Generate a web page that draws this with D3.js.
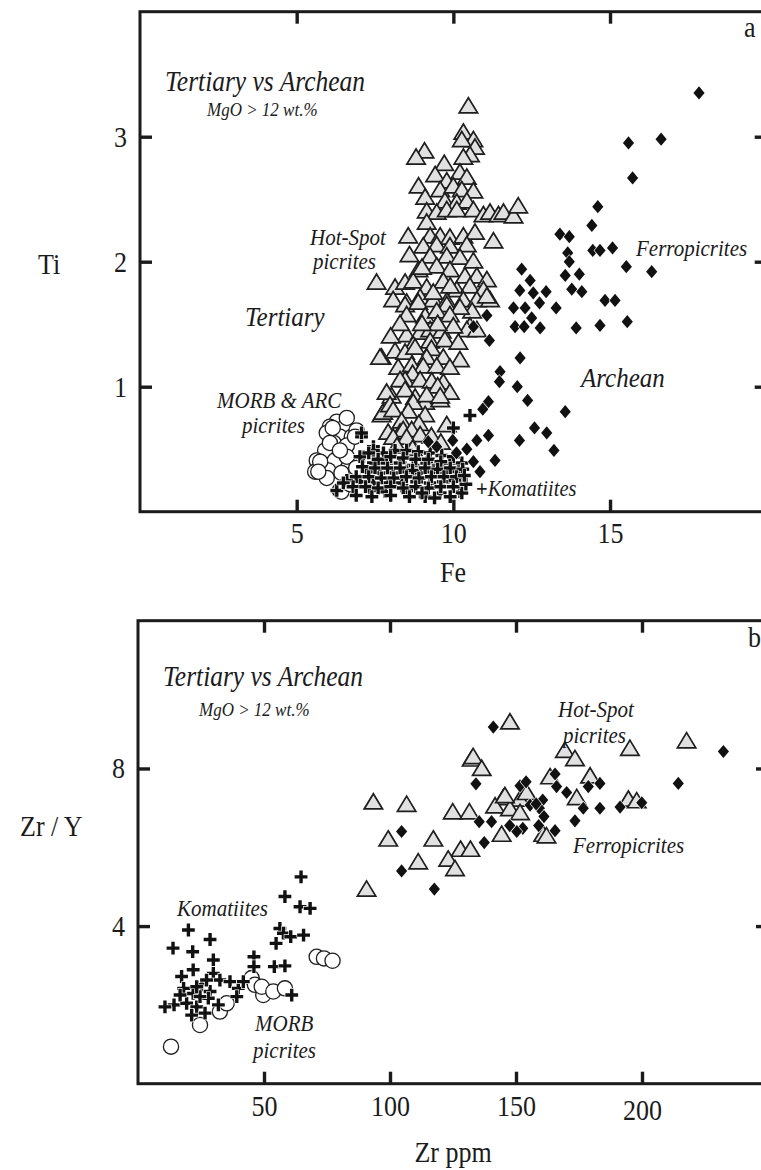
<!DOCTYPE html>
<html>
<head>
<meta charset="utf-8">
<script src="https://cdn.jsdelivr.net/npm/d3@7"></script>
<style>
  html, body { margin: 0; padding: 0; background: #fff; }
  svg { display: block; }
  text { font-family: "Liberation Serif", "Times New Roman", serif; fill: #1b1b1b; }
</style>
</head>
<body>
<svg id="chart" width="761" height="1170" font-family="Liberation Serif, serif"></svg>
<script>
// ---------- Panel a: Ti vs Fe ----------
const hotspotA = [
  [10.48,3.24],[10.32,3.03],[10.64,2.97],[10.27,2.97],[10.69,2.91],[10.53,2.85],[10.32,2.83],[9.08,2.88],
  [8.81,2.83],[9.71,2.78],[9.42,2.69],[10.21,2.71],[10.43,2.67],[8.89,2.60],[9.79,2.64],[9.58,2.57],
  [10.0,2.60],[10.27,2.57],[10.64,2.56],[9.10,2.51],[9.73,2.48],[10.11,2.47],[10.43,2.48],[9.15,2.40],
  [9.47,2.39],[9.79,2.41],[10.11,2.41],[10.64,2.41],[10.96,2.37],[11.17,2.39],[11.44,2.37],[11.6,2.39],
  [11.92,2.36],[12.07,2.44],[9.15,2.31],[8.56,2.20],[9.26,2.20],[9.58,2.20],[9.89,2.19],[10.32,2.20],
  [10.69,2.23],[11.28,2.16],[9.04,2.12],[9.47,2.13],[9.89,2.12],[10.43,2.13],[9.26,2.04],[9.79,2.04],
  [10.21,2.03],[10.64,2.0],[8.89,1.93],[9.47,1.96],[9.89,1.93],[10.37,1.88],[10.75,1.88],[11.07,1.85],
  [7.55,1.83],[8.14,1.79],[8.46,1.83],[8.72,1.84],[9.15,1.79],[9.68,1.84],[10.11,1.77],[10.53,1.80],
  [10.96,1.77],[8.08,1.69],[8.51,1.67],[8.94,1.71],[9.36,1.69],[9.79,1.68],[10.32,1.69],[10.75,1.69],
  [11.17,1.69],[9.0,1.95],[8.6,2.05],[9.9,1.80],[10.6,1.60],
  [8.46,1.65],[8.88,1.67],[9.36,1.75],[9.79,1.65],[10.21,1.63],[11.07,1.72],[8.51,1.57],[9.10,1.56],
  [9.47,1.60],[9.89,1.57],[10.53,1.48],[10.43,1.45],[10.75,1.45],[8.51,1.41],[8.94,1.43],[9.26,1.45],
  [9.63,1.44],[10.0,1.48],[9.5,1.50],[9.0,1.50],[8.3,1.50],[8.0,1.40],[8.72,1.33],[9.26,1.36],
  [9.73,1.37],[10.16,1.35],[9.3,1.30],[7.71,1.23],[7.66,1.23],[8.14,1.28],[8.46,1.27],[8.78,1.31],
  [9.15,1.23],[9.68,1.23],[10.21,1.21],[8.24,1.15],[8.67,1.17],[9.04,1.16],[9.47,1.16],[9.89,1.15],
  [8.7,1.10],[8.46,1.05],[8.94,1.05],[9.31,1.04],[9.68,1.03],[8.3,1.05],[9.5,1.00],[8.03,0.92],
  [8.46,0.97],[8.78,0.91],[9.10,0.87],[9.58,0.89],[9.89,0.95],[7.87,0.95],[8.72,0.87],[9.15,0.93],
  [9.58,0.92],[7.71,0.77],[7.76,0.79],[7.98,0.85],[8.08,0.81],[8.56,0.80],[9.10,0.77],[8.35,0.72],
  [8.9,0.70],[7.92,0.63],[8.30,0.63],[8.40,0.65],[8.67,0.65],[8.94,0.61],[9.79,0.69],[9.3,0.60],
  [8.08,0.59],[8.51,0.59],[9.6,0.55],[8.2,0.52],[8.7,0.50]
];
const morbA = [
  [6.28,0.72],[6.06,0.68],[6.54,0.68],[5.96,0.63],[6.38,0.60],[6.76,0.60],[6.91,0.65],[6.18,0.55],
  [6.60,0.53],[5.91,0.49],[5.64,0.41],[6.22,0.41],[6.60,0.44],[5.59,0.32],[6.01,0.33],[6.43,0.31],
  [6.38,0.17],[5.96,0.27],[6.60,0.75],[6.15,0.67],[6.06,0.55],[5.75,0.40],[5.69,0.32],[6.38,0.49],
  [6.43,0.16],[6.86,0.60],[6.70,0.22],[6.90,0.35]
];
const komatiiteA = [
  [7.07,0.60],[7.45,0.52],[7.77,0.47],[8.14,0.49],[8.51,0.49],[8.88,0.48],[9.26,0.47],[9.63,0.45],
  [7.13,0.44],[7.45,0.39],[7.87,0.39],[8.30,0.39],[8.72,0.37],[9.15,0.39],[9.52,0.37],[9.89,0.39],
  [10.27,0.39],[7.23,0.32],[7.66,0.31],[8.08,0.31],[8.51,0.32],[8.94,0.31],[9.36,0.32],[9.79,0.31],
  [10.16,0.32],[6.60,0.25],[7.02,0.24],[7.45,0.23],[7.92,0.23],[8.35,0.23],[8.83,0.24],[9.26,0.23],
  [9.68,0.24],[10.05,0.25],[7.34,0.17],[7.82,0.16],[8.51,0.17],[9.10,0.12],[9.58,0.15],[10.21,0.16],
  [6.28,0.17],[10.53,0.77],[10.0,0.67],[7.07,0.63],[10.27,0.15],[6.49,0.23],[7.02,0.44],[7.45,0.49],
  [7.3,0.47],[7.6,0.42],[8.0,0.44],[8.4,0.43],[8.8,0.42],[9.2,0.42],[9.6,0.40],[10.0,0.44],
  [7.1,0.36],[7.5,0.35],[7.9,0.35],[8.3,0.35],[8.7,0.33],[9.1,0.35],[9.5,0.34],[9.9,0.35],
  [10.3,0.34],[6.9,0.28],[7.3,0.28],[7.7,0.27],[8.1,0.27],[8.5,0.28],[8.9,0.27],[9.3,0.28],
  [9.7,0.28],[10.1,0.28],[6.8,0.20],[7.2,0.20],[7.6,0.19],[8.0,0.20],[8.4,0.19],[8.8,0.20],
  [9.2,0.19],[9.6,0.20],[10.0,0.20],[6.9,0.13],[7.4,0.12],[8.0,0.13],[8.6,0.12],[9.0,0.15],
  [9.4,0.11],[9.9,0.12],[10.4,0.22],[10.35,0.29]
];
const ferroA = [
  [17.84,3.35],[15.59,2.95],[16.63,2.98],[15.72,2.67],[14.61,2.44],[14.42,2.29],[13.40,2.22],[13.70,2.20],
  [13.65,2.07],[13.70,2.0],[14.45,2.09],[14.68,2.09],[15.08,2.11],[15.52,1.96],[16.33,1.92],[13.57,1.89],
  [14.02,1.90],[13.78,1.78],[14.10,1.76],[14.84,1.69],[15.16,1.69],[13.92,1.47],[14.68,1.49],[15.55,1.52],
  [12.18,1.94],[12.45,1.85],[12.96,1.76],[12.12,1.77],[12.55,1.75],[11.92,1.63],[12.29,1.63],[12.75,1.67],
  [13.28,1.63],[12.50,1.55],[11.97,1.48],[12.26,1.48],[12.77,1.47],[11.07,1.57],[10.64,1.48],[11.15,1.37],
  [12.13,1.23],[11.49,1.12],[11.47,1.04],[12.04,1.0],[12.37,0.89],[13.57,0.80],[11.12,0.88],[10.94,0.82],
  [12.59,0.67],[12.98,0.63],[12.11,0.57],[13.21,0.49],[11.12,0.61],[10.75,0.57],[10.43,0.50],[9.98,0.57],
  [9.47,0.52],[9.20,0.56],[11.33,0.41],[10.64,0.40],[10.85,0.32],[10.10,0.47]
];
const feTicks = [5, 10, 15];
const tiTicks = [1, 2, 3];

// ---------- Panel b: Zr/Y vs Zr ----------
const hotspotB = [
  [147.6,9.16],[132.4,8.22],[133.0,8.28],[136.4,7.98],[169.4,8.44],[173.4,8.23],[195.2,8.49],[217.7,8.68],
  [163.5,7.77],[179.4,7.79],[174.1,7.24],[194.6,7.20],[197.9,7.16],[145.0,7.24],[151.6,7.20],[141.7,7.03],
  [147.6,6.96],[151.6,6.86],[124.9,6.88],[131.5,6.88],[144.3,6.31],[160.8,6.31],[162.1,6.27],[154.2,7.37],
  [145.6,7.29],[106.6,7.07],[93.4,7.13],[117.2,6.19],[99.3,6.19],[128.0,5.93],[131.9,5.93],[111.2,5.61],
  [123.1,5.68],[125.8,5.44],[90.7,4.92]
];
const ferroB = [
  [141.0,9.05],[232.3,8.43],[214.4,7.62],[134.1,7.61],[165.5,7.86],[183.3,7.62],[166.1,7.54],[178.7,7.54],
  [151.6,7.56],[154.0,7.66],[170.1,7.39],[160.6,7.20],[155.6,7.07],[159.3,6.99],[176.7,6.99],[183.3,6.99],
  [191.3,7.02],[199.9,7.13],[135.4,6.65],[140.3,6.65],[161.1,6.78],[173.4,6.67],[152.7,6.48],[159.0,6.55],
  [165.5,6.42],[137.4,6.12],[150.3,6.40],[104.6,6.40],[104.6,5.40],[117.6,4.94],[158.0,7.10],[147.5,6.55]
];
const morbB = [
  [13.1,0.94],[24.6,1.49],[32.5,1.83],[35.2,2.04],[45.1,2.68],[46.4,2.51],[49.7,2.25],[49.1,2.46],
  [53.7,2.34],[58.3,2.42],[70.9,3.22],[73.8,3.18],[77.2,3.12]
];
const komatiiteB = [
  [64.7,5.25],[58.3,4.75],[64.3,4.49],[68.3,4.45],[56.3,3.94],[57.7,3.82],[60.6,3.73],[65.7,3.77],
  [54.8,3.56],[46.0,3.22],[46.0,2.97],[54.1,2.97],[58.3,2.99],[61.0,2.25],[20.0,3.90],[13.9,3.44],
  [21.7,3.35],[28.6,3.66],[29.9,3.14],[21.9,2.89],[17.3,2.72],[29.9,2.80],[25.3,2.51],[32.5,2.63],
  [36.5,2.59],[39.8,2.42],[41.8,2.59],[18.1,2.42],[21.9,2.29],[28.6,2.34],[14.3,2.00],[10.7,1.95],
  [19.3,2.04],[23.3,1.95],[27.9,2.17],[39.2,2.21],[31.9,2.00],[21.3,1.74],[26.6,1.79],[16.7,2.25],
  [24.6,2.21],[27.2,2.63],[23.3,2.46]
];
const zrTicks = [50, 100, 150, 200];
const zryTicks = [4, 8];

// ---------- drawing ----------
const svg = d3.select("#chart");
const SERIF = "Liberation Serif, Times New Roman, serif";
const SY = 1.13; // glyphs in this figure are a little taller than wide

// marker shapes
const triangleType = { draw(ctx) { ctx.moveTo(0, -9); ctx.lineTo(9.2, 6.2); ctx.lineTo(-9.2, 6.2); ctx.closePath(); } };
const crossType = { draw(ctx) {
  const a = 6.4, t = 1.7;
  ctx.moveTo(-t, -a); ctx.lineTo(t, -a); ctx.lineTo(t, -t); ctx.lineTo(a, -t); ctx.lineTo(a, t);
  ctx.lineTo(t, t); ctx.lineTo(t, a); ctx.lineTo(-t, a); ctx.lineTo(-t, t); ctx.lineTo(-a, t);
  ctx.lineTo(-a, -t); ctx.lineTo(-t, -t); ctx.closePath(); } };
const diamondType = { draw(ctx) { ctx.moveTo(0, -6.6); ctx.lineTo(5.6, 0); ctx.lineTo(0, 6.6); ctx.lineTo(-5.6, 0); ctx.closePath(); } };
const circleType = { draw(ctx) { ctx.moveTo(7.6, 0); ctx.arc(0, 0, 7.6, 0, 2 * Math.PI); } };

function plotSeries(g, data, x, y, kind) {
  const sel = g.append("g").selectAll("path").data(data).join("path")
    .attr("transform", d => `translate(${x(d[0])},${y(d[1])})`);
  if (kind === "circle") {
    sel.attr("d", d3.symbol().type(circleType)())
      .attr("fill", "#fff").attr("stroke", "#1e1e1e").attr("stroke-width", 1.3);
  } else if (kind === "triangle") {
    sel.attr("d", d3.symbol().type(triangleType)())
      .attr("fill", "#e1e1e1").attr("stroke", "#1e1e1e").attr("stroke-width", 1.7).attr("stroke-linejoin", "miter");
  } else if (kind === "cross") {
    sel.attr("d", d3.symbol().type(crossType)())
      .attr("fill", "#111").attr("stroke", "#fff").attr("stroke-width", 1.3).attr("paint-order", "stroke");
  } else {
    sel.attr("d", d3.symbol().type(diamondType)())
      .attr("fill", "#111").attr("stroke", "#fff").attr("stroke-width", 1.2).attr("paint-order", "stroke");
  }
}

function note(g, x, y, str, size, opts = {}) {
  return g.append("text")
    .attr("transform", `translate(${x},${y}) scale(1,${SY})`)
    .attr("font-family", SERIF)
    .attr("font-size", size)
    .attr("font-style", opts.italic ? "italic" : "normal")
    .attr("text-anchor", opts.anchor || "start")
    .text(str);
}

function frame(g, x, y, xt, yt, padX, padY) {
  const [x0, x1] = x.range(), [y0, y1] = y.range();
  const styleAxis = sel => {
    sel.attr("font-family", SERIF);
    sel.select(".domain").remove();
    sel.selectAll(".tick line").attr("stroke", "#1b1b1b").attr("stroke-width", 3.4);
    sel.selectAll(".tick text").attr("font-size", 26).attr("fill", "#1b1b1b").attr("font-family", SERIF);
  };
  const bottom = g.append("g").attr("transform", `translate(0,${y0})`)
    .call(d3.axisBottom(x).tickValues(xt).tickSizeInner(-12).tickSizeOuter(0).tickPadding(padY).tickFormat(d3.format("d")));
  styleAxis(bottom);
  bottom.selectAll(".tick text").attr("transform", `scale(1,${SY})`);
  const top = g.append("g").attr("transform", `translate(0,${y1})`)
    .call(d3.axisTop(x).tickValues(xt).tickSizeInner(-12).tickSizeOuter(0).tickFormat(""));
  styleAxis(top);
  const left = g.append("g").attr("transform", `translate(${x0},0)`)
    .call(d3.axisLeft(y).tickValues(yt).tickSizeInner(-12).tickSizeOuter(0).tickPadding(padX).tickFormat(d3.format("d")));
  styleAxis(left);
  left.selectAll(".tick text").attr("transform", `scale(1,${SY})`);
  const right = g.append("g").attr("transform", `translate(${x1},0)`)
    .call(d3.axisRight(y).tickValues(yt).tickSizeInner(-12).tickSizeOuter(0).tickFormat(""));
  styleAxis(right);
  g.append("rect").attr("x", x0).attr("y", y1).attr("width", x1 - x0).attr("height", y0 - y1)
    .attr("fill", "none").attr("stroke", "#1b1b1b").attr("stroke-width", 3);
  return bottom;
}

// Panel a
const xA = d3.scaleLinear().domain([0, 20]).range([140, 766.7]);
const yA = d3.scaleLinear().domain([0, 4]).range([511.7, 11.7]);
const gA = svg.append("g");
plotSeries(gA, morbA, xA, yA, "circle");
plotSeries(gA, hotspotA, xA, yA, "triangle");
plotSeries(gA, komatiiteA, xA, yA, "cross");
plotSeries(gA, ferroA, xA, yA, "diamond");
frame(gA, xA, yA, feTicks, tiTicks, 13, 9);

note(gA, 744, 37, "a", 26);
note(gA, 165, 91, "Tertiary vs Archean", 25.5, { italic: true });
note(gA, 207, 116, "MgO > 12 wt.%", 17, { italic: true });
note(gA, 310, 245, "Hot-Spot", 21, { italic: true });
note(gA, 313, 269, "picrites", 21, { italic: true });
note(gA, 245, 326, "Tertiary", 25, { italic: true });
note(gA, 217, 408, "MORB & ARC", 21, { italic: true });
note(gA, 242, 433, "picrites", 21, { italic: true });
note(gA, 581, 387, "Archean", 25, { italic: true });
note(gA, 636, 256, "Ferropicrites", 21, { italic: true });
const kom = note(gA, 476, 496, "", 20.5, { italic: true });
kom.append("tspan").attr("font-style", "normal").attr("font-weight", "bold").text("+");
kom.append("tspan").text("Komatiites");
note(gA, 38, 274, "Ti", 26);
note(gA, 453, 582, "Fe", 26, { anchor: "middle" });

// Panel b
const xB = d3.scaleLinear().domain([0, 250]).range([138, 768]);
const yB = d3.scaleLinear().domain([0, 11.75]).range([1083.7, 620.7]);
const gB = svg.append("g");
plotSeries(gB, morbB, xB, yB, "circle");
plotSeries(gB, hotspotB, xB, yB, "triangle");
plotSeries(gB, komatiiteB, xB, yB, "cross");
plotSeries(gB, ferroB, xB, yB, "diamond");
const bottomB = frame(gB, xB, yB, zrTicks, zryTicks, 13, 10);
bottomB.selectAll(".tick").filter(d => d === 200).select("text").attr("y", 14);

note(gB, 748, 647, "b", 26);
note(gB, 163, 686, "Tertiary vs Archean", 25.5, { italic: true });
note(gB, 199, 716, "MgO > 12 wt.%", 17, { italic: true });
note(gB, 558, 717, "Hot-Spot", 21, { italic: true });
note(gB, 563, 743, "picrites", 21, { italic: true });
note(gB, 573, 853, "Ferropicrites", 21, { italic: true });
note(gB, 177, 916, "Komatiites", 21, { italic: true });
note(gB, 255, 1031, "MORB", 21, { italic: true });
note(gB, 253, 1058, "picrites", 21, { italic: true });
note(gB, 20, 836, "Zr / Y", 26);
note(gB, 453, 1162, "Zr ppm", 26, { anchor: "middle" });
</script>
</body>
</html>
